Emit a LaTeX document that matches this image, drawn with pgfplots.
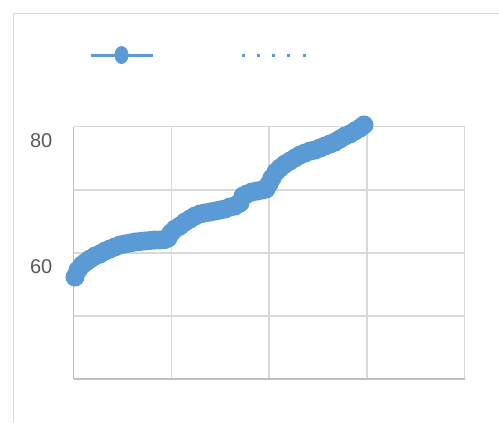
\documentclass[border=0pt]{standalone}
\usepackage{fontspec}
\setmainfont{Liberation Sans}
\usepackage{pgfplots}
\pgfplotsset{compat=1.18}
\definecolor{xlblue}{HTML}{5B9BD5}
\definecolor{gridgray}{HTML}{D9D9D9}
\definecolor{axgray}{HTML}{BFBFBF}
\definecolor{txtgray}{HTML}{595959}
\pgfplotsset{
  leg one/.style={legend image code/.code={
    \draw[##1, mark size=5.5bp, mark repeat=2, mark phase=2, mark options={yscale=1.35}]
      plot coordinates {(0bp,0bp)(31bp,0bp)(62bp,0bp)};}},
  leg two/.style={legend image code/.code={\draw[##1] (0bp,0bp) -- (64bp,0bp);}},
}
\begin{document}
\begin{tikzpicture}
\useasboundingbox (0bp,0bp) rectangle (499bp,423bp);
% outer chart frame (cut by the picture edge on right and bottom)
\draw[gridgray, line width=1.5bp] (13.5bp,-5bp) -- (13.5bp,409.5bp) -- (505bp,409.5bp);
\begin{axis}[
  at={(73.5bp,44bp)}, anchor=south west,
  scale only axis, width=391bp, height=252.3bp,
  xmin=0, xmax=400, ymin=40, ymax=80,
  xtick={0,100,200,300,400}, xticklabels={},
  ytick={40,50,60,70,80}, yticklabels={,,60,,80},
  major tick length=0pt,
  grid=major,
  major grid style={gridgray, line width=1.5bp},
  axis x line*=bottom, axis y line*=left,
  axis line style={axgray, line width=1.5bp, -},
  yticklabel style={font=\fontsize{20bp}{21bp}\selectfont, text=txtgray,
    inner sep=0pt, xshift=-21bp, yshift=-14bp},
  clip=false,
  legend columns=2,
  legend style={at={(0.0397,1.284)}, anchor=west, draw=none, fill=none,
    inner sep=0pt, outer sep=0pt, column sep=0pt,
    nodes={inner sep=0pt, outer sep=0pt}},
]
\addplot[xlblue, line width=3bp, mark=*, mark size=8bp, leg one]
coordinates {
(1.53,56.17)(4.60,57.28)(8.70,58.07)(12.79,58.55)(16.88,59.02)(21.99,59.50)
(27.11,59.82)(32.22,60.29)(37.34,60.61)(42.45,60.93)(47.57,61.24)(52.69,61.40)
(57.80,61.56)(62.92,61.72)(68.03,61.80)(73.15,61.88)(78.26,61.96)(83.38,62.04)
(88.49,62.04)(93.61,62.11)(96.68,62.35)(99.74,63.15)(103.83,63.78)(108.95,64.26)
(114.06,64.89)(119.18,65.36)(124.29,65.84)(129.41,66.16)(134.52,66.32)(139.64,66.47)
(144.76,66.63)(149.87,66.79)(154.99,66.95)(160.10,67.27)(165.22,67.43)(170.33,67.90)
(173.40,69.01)(177.49,69.33)(182.60,69.65)(187.72,69.80)(192.83,69.96)(196.93,70.12)
(200.00,70.91)(203.07,71.86)(207.16,72.82)(211.25,73.45)(216.37,74.08)(221.48,74.56)
(226.60,75.04)(231.71,75.51)(236.83,75.83)(241.94,76.14)(247.06,76.30)(252.17,76.62)
(257.29,76.94)(262.40,77.25)(267.52,77.57)(272.64,78.05)(277.75,78.52)(282.87,78.84)
(287.98,79.32)(293.10,79.79)(297.19,80.27)
};
\addlegendentry{\hspace*{86bp}}
\addplot[xlblue, only marks, mark=*, mark size=1.8bp, forget plot]
coordinates {(163.2,68.69)};
\addlegendimage{xlblue, line width=3bp, dash pattern=on 3bp off 12.25bp, leg two}
\addlegendentry{\mbox{}}
\end{axis}
\end{tikzpicture}
\end{document}
